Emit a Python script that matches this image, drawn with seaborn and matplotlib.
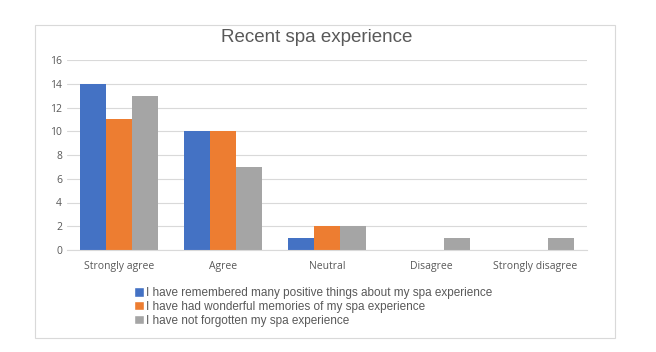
import numpy as np
import pandas as pd
import matplotlib
matplotlib.use("Agg")
import matplotlib.pyplot as plt
import seaborn as sns
from matplotlib.patches import Rectangle

sns.set_style("white")
plt.rcParams['font.family'] = ['Liberation Sans', 'DejaVu Sans']

# Data
categories = ["Strongly agree", "Agree", "Neutral", "Disagree", "Strongly disagree"]
series_names = [
    "I have remembered many positive things about my spa experience",
    "I have had wonderful memories of my spa experience",
    "I have not forgotten my spa experience",
]
remembered = [14, 10, 1, 0, 0]
wonderful = [11, 10, 2, 0, 0]
not_forgotten = [13, 7, 2, 1, 1]
colors = ["#4472C4", "#ED7D31", "#A5A5A5"]

df = pd.DataFrame({
    "category": categories * 3,
    "series": np.repeat(series_names, len(categories)),
    "value": remembered + wonderful + not_forgotten,
})

fig = plt.figure(figsize=(6.56, 3.52), dpi=100)
W, H = 656, 352

# light chart-area border like Excel
fig.patches.append(Rectangle((35 / W, 1 - 338 / H), 580 / W, 313 / H,
                             transform=fig.transFigure, fill=False,
                             edgecolor="#d9d9d9", linewidth=0.8))

ax = fig.add_axes([67 / W, 1 - 250 / H, 520 / W, 190 / H])
sns.barplot(data=df, x="category", y="value", hue="series", order=categories,
            hue_order=series_names, palette=colors, width=0.75, gap=0,
            saturation=1, linewidth=0, legend=False, ax=ax)

ax.set_ylim(0, 16)
ax.set_yticks(range(0, 17, 2))
ax.set_xlim(-0.5, 4.5)
ax.grid(axis="y", color="#d9d9d9", linewidth=0.8)
ax.set_axisbelow(True)
for s in ["top", "right", "left"]:
    ax.spines[s].set_visible(False)
ax.spines["bottom"].set_color("#d9d9d9")
ax.set_xlabel("")
ax.set_ylabel("")
ax.tick_params(axis="both", length=0, labelsize=7.5, labelcolor="#595959")
ax.tick_params(axis="x", pad=8)
for lbl in ax.get_xticklabels() + ax.get_yticklabels():
    lbl.set_family(["Open Sans", "DejaVu Sans"])

fig.text(317 / W, 1 - 37 / H, "Recent spa experience", ha="center", va="center",
         fontsize=13.5, color="#595959")

handles = [plt.Rectangle((0, 0), 1, 1, facecolor=c) for c in colors]
leg = fig.legend(handles, series_names, loc="upper left",
                 bbox_to_anchor=(134 / W, 1 - 287 / H), frameon=False,
                 fontsize=8.5, handlelength=0.85, handleheight=0.85,
                 handletextpad=0.2, labelspacing=0.15, borderpad=0,
                 borderaxespad=0)
for t in leg.get_texts():
    t.set_color("#595959")

fig.savefig("out.png", dpi=100, facecolor="white")
